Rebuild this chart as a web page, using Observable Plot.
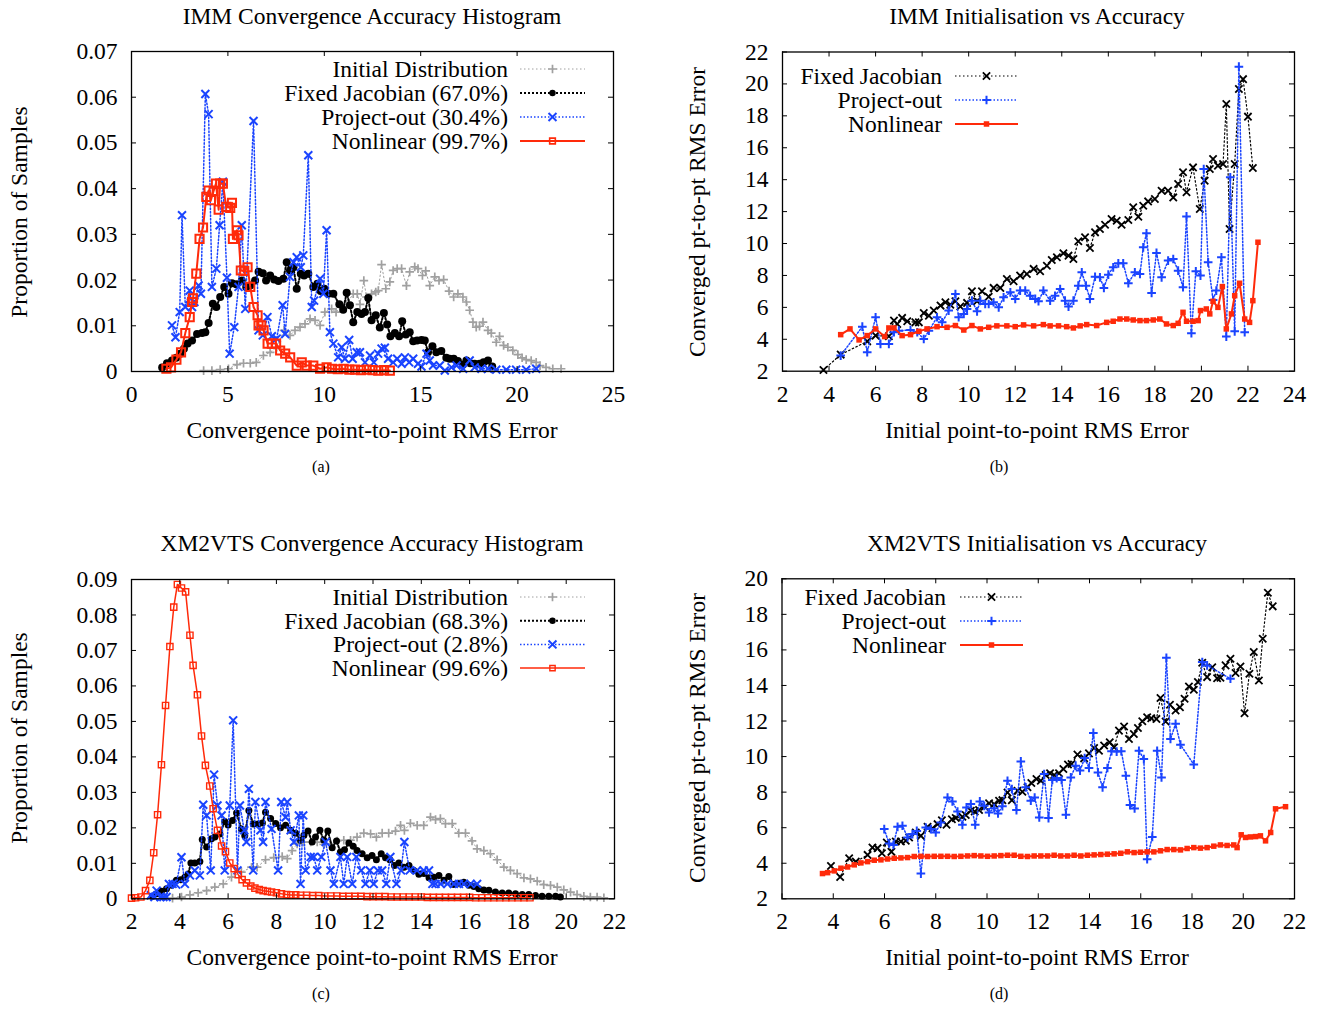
<!DOCTYPE html>
<html><head><meta charset="utf-8">
<script src="https://cdn.jsdelivr.net/npm/d3@7"></script>
<script src="https://cdn.jsdelivr.net/npm/@observablehq/plot@0.6"></script>
<style>
body{margin:0;background:#fff;font-family:"Liberation Serif","Times New Roman",serif;}
#root{position:relative;width:1322px;height:1009px;overflow:hidden;}
.t{position:absolute;white-space:nowrap;font-size:23.5px;line-height:1;color:#000;transform:translate(-50%,-50%);}
.cap{font-size:16px;}
.yl{transform:translate(-50%,-50%) rotate(-90deg);}
svg{overflow:visible;}
</style></head><body><div id="root"></div>
<script>
// ---------- DATA ----------
// (a) IMM histogram: [error, proportion]
const aInitial = [[3.74,.0002],[4.17,.0002],[4.60,.0004],[5.03,.0006],[5.47,.0015],[5.81,.0018],[6.16,.0018],[6.47,.0020],[6.84,.0035],[7.19,.0042],[7.53,.0053],[7.91,.0090],[8.22,.0079],[8.48,.0090],[8.74,.0097],[9.00,.0104],[9.26,.0115],[9.52,.0112],[9.78,.0101],[10.03,.0130],[10.38,.0137],[10.61,.0130],[10.90,.0142],[11.16,.0148],[11.50,.0170],[11.71,.0170],[11.85,.0147],[12.05,.0199],[12.19,.0163],[12.45,.0170],[12.67,.0174],[12.80,.0177],[12.97,.0234],[13.19,.0181],[13.40,.0196],[13.57,.0221],[13.78,.0225],[14.01,.0225],[14.26,.0188],[14.43,.0218],[14.69,.0229],[14.86,.0225],[15.09,.0210],[15.26,.0220],[15.47,.0188],[15.73,.0207],[15.95,.0199],[16.19,.0201],[16.47,.0176],[16.71,.0163],[16.93,.0170],[17.19,.0163],[17.37,.0152],[17.54,.0134],[17.71,.0108],[17.88,.0097],[18.05,.0099],[18.23,.0108],[18.49,.0090],[18.66,.0084],[18.92,.0064],[19.09,.0077],[19.30,.0057],[19.52,.0053],[19.78,.0046],[20.04,.0037],[20.26,.0030],[20.47,.0026],[20.73,.0024],[20.99,.0020],[21.19,.0013],[21.50,.0009],[21.85,.0006],[22.28,.0006]];
const aFixed = [[1.59,.0009],[1.84,.0018],[2.10,.0024],[2.32,.0030],[2.53,.0039],[2.72,.0050],[2.91,.0061],[3.14,.0068],[3.40,.0082],[3.66,.0084],[3.83,.0086],[4.00,.0106],[4.22,.0148],[4.40,.0141],[4.60,.0163],[4.81,.0185],[5.03,.0170],[5.21,.0193],[5.43,.0191],[5.72,.0199],[5.95,.0185],[6.16,.0188],[6.41,.0199],[6.59,.0218],[6.81,.0215],[6.98,.0199],[7.19,.0210],[7.40,.0201],[7.62,.0198],[7.88,.0203],[8.05,.0239],[8.22,.0221],[8.40,.0228],[8.57,.0181],[8.78,.0214],[8.95,.0210],[9.17,.0214],[9.43,.0185],[9.64,.0192],[9.81,.0176],[10.00,.0181],[10.21,.0170],[10.47,.0170],[10.78,.0147],[10.98,.0135],[11.16,.0172],[11.33,.0145],[11.50,.0108],[11.71,.0130],[11.93,.0126],[12.11,.0130],[12.28,.0161],[12.45,.0112],[12.67,.0123],[12.88,.0096],[13.09,.0128],[13.26,.0103],[13.43,.0077],[13.66,.0084],[13.88,.0077],[14.04,.0110],[14.23,.0081],[14.43,.0086],[14.61,.0066],[14.81,.0068],[15.04,.0069],[15.21,.0068],[15.38,.0042],[15.61,.0055],[15.81,.0042],[16.07,.0045],[16.33,.0030],[16.50,.0028],[16.71,.0028],[16.93,.0023],[17.19,.0015],[17.37,.0024],[17.57,.0018],[17.80,.0017],[18.05,.0017],[18.26,.0020],[18.49,.0024],[18.71,.0011]];
const aProject = [[2.10,.0101],[2.28,.0075],[2.50,.0130],[2.62,.0342],[2.79,.0141],[3.02,.0177],[3.14,.0141],[3.26,.0152],[3.48,.0188],[3.60,.0170],[3.83,.0607],[4.00,.0563],[4.17,.0185],[4.40,.0225],[4.57,.0320],[4.74,.0415],[4.95,.0205],[5.09,.0039],[5.33,.0097],[5.55,.0185],[5.72,.0320],[5.90,.0137],[6.33,.0548],[6.59,.0090],[6.81,.0079],[7.05,.0119],[7.28,.0077],[7.53,.0072],[7.84,.0145],[7.97,.0082],[8.22,.0207],[8.40,.0239],[8.57,.0250],[8.78,.0228],[8.91,.0254],[9.17,.0473],[9.35,.0141],[9.47,.0155],[9.78,.0203],[9.95,.0170],[10.12,.0309],[10.29,.0086],[10.47,.0061],[10.72,.0031],[10.90,.0053],[11.07,.0028],[11.29,.0069],[11.47,.0028],[11.68,.0042],[11.85,.0042],[12.11,.0020],[12.37,.0035],[12.57,.0020],[12.79,.0039],[12.97,.0050],[13.14,.0052],[13.31,.0028],[13.57,.0020],[13.78,.0028],[14.01,.0017],[14.18,.0031],[14.40,.0020],[14.61,.0028],[14.86,.0017],[15.04,.0011],[15.30,.0039],[15.47,.0024],[15.64,.0013],[15.99,.0013],[16.25,.0002],[16.60,.0009],[16.86,.0013],[17.20,.0006],[17.54,.0024],[17.80,.0009],[18.15,.0006],[18.49,.0006],[18.92,.0004],[19.44,.0004],[19.95,.0004],[20.47,.0004],[20.99,.0006]];
const aNonlinear = [[1.81,.0006],[2.05,.0009],[2.33,.0026],[2.57,.0042],[2.79,.0084],[3.02,.0119],[3.14,.0152],[3.19,.0160],[3.36,.0214],[3.53,.0290],[3.71,.0315],[3.88,.0382],[4.00,.0396],[4.12,.0375],[4.26,.0395],[4.38,.0411],[4.52,.0354],[4.60,.0411],[4.74,.0411],[4.91,.0360],[5.12,.0358],[5.21,.0369],[5.26,.0290],[5.47,.0309],[5.55,.0298],[5.67,.0221],[5.85,.0220],[6.02,.0228],[6.16,.0185],[6.33,.0141],[6.54,.0123],[6.59,.0101],[6.73,.0101],[6.85,.0090],[7.06,.0061],[7.28,.0061],[7.50,.0061],[7.71,.0046],[7.97,.0039],[8.23,.0031],[8.57,.0013],[8.83,.0020],[9.09,.0013],[9.43,.0013],[9.78,.0006],[10.12,.0009],[10.40,.0006],[10.70,.0005],[11.00,.0006],[11.30,.0004],[11.60,.0004],[11.90,.0003],[12.20,.0004],[12.50,.0003],[12.80,.0002],[13.10,.0003],[13.40,.0002]];

// (b) IMM initialisation vs accuracy: [initial error, converged error]
const bFixed = [[3.76,2.08],[4.50,3.04],[5.64,3.87],[6.00,4.23],[6.57,4.19],[6.79,5.17],[6.93,4.96],[7.14,5.34],[7.36,5.13],[7.71,5.06],[7.86,5.06],[8.07,5.65],[8.29,5.48],[8.50,5.80],[8.79,6.11],[9.00,6.32],[9.21,6.17],[9.43,6.38],[9.64,6.05],[9.93,6.28],[10.14,7.01],[10.36,6.38],[10.57,7.01],[10.86,6.67],[11.07,7.22],[11.36,7.22],[11.64,7.78],[11.93,7.63],[12.21,7.99],[12.50,8.09],[12.79,8.41],[13.07,8.26],[13.36,8.61],[13.57,8.97],[13.79,9.14],[14.07,9.39],[14.29,9.24],[14.50,9.03],[14.71,10.14],[15.00,10.39],[15.21,9.72],[15.43,10.70],[15.64,10.91],[15.86,11.18],[16.14,11.54],[16.36,11.43],[16.57,11.18],[16.86,11.47],[17.07,12.27],[17.29,11.68],[17.50,12.37],[17.71,12.64],[18.00,12.79],[18.29,13.31],[18.57,13.31],[18.79,12.89],[19.00,13.73],[19.21,14.46],[19.36,13.21],[19.64,14.77],[19.93,12.16],[20.14,13.94],[20.36,14.67],[20.50,15.29],[20.71,14.88],[20.93,14.98],[21.07,18.74],[21.21,10.91],[21.43,14.98],[21.61,19.68],[21.79,20.30],[22.00,17.95],[22.21,14.73]];
const bProject = [[4.50,2.98],[5.43,4.79],[5.64,3.19],[6.00,5.38],[6.21,3.71],[6.57,3.71],[6.79,4.44],[7.00,4.54],[7.50,4.58],[7.79,4.44],[8.07,4.02],[8.29,4.54],[8.64,5.38],[8.86,5.06],[9.14,5.80],[9.43,6.84],[9.57,5.38],[9.79,5.59],[9.93,5.90],[10.14,6.42],[10.36,5.75],[10.50,6.42],[10.71,6.21],[10.86,6.21],[11.07,6.32],[11.29,6.00],[11.50,6.63],[11.79,6.94],[12.00,6.53],[12.21,7.05],[12.43,7.05],[12.64,6.73],[12.86,6.53],[13.00,6.38],[13.21,7.05],[13.50,6.42],[13.71,6.73],[13.93,7.15],[14.14,6.42],[14.29,6.05],[14.50,6.42],[14.71,7.36],[14.86,8.20],[15.04,7.36],[15.21,6.53],[15.43,7.92],[15.64,7.88],[15.81,7.22],[16.00,8.05],[16.21,8.51],[16.43,8.76],[16.64,8.76],[16.86,7.51],[17.14,8.20],[17.36,8.09],[17.50,9.76],[17.64,10.64],[17.86,6.90],[18.07,9.41],[18.29,7.88],[18.57,8.93],[18.79,9.03],[19.00,8.30],[19.21,7.26],[19.36,11.70],[19.57,4.38],[19.76,8.26],[19.96,7.99],[20.10,14.67],[20.29,8.82],[20.50,6.46],[20.64,7.05],[20.86,9.14],[21.07,4.17],[21.24,14.15],[21.43,4.50],[21.61,21.08],[21.86,4.44]];
const bNonlinear = [[4.50,4.29],[4.90,4.65],[5.29,3.96],[5.64,4.23],[6.00,4.65],[6.39,4.17],[6.57,4.71],[6.79,4.71],[7.14,4.23],[7.50,4.29],[7.86,4.50],[8.21,4.65],[8.64,4.79],[9.07,4.75],[9.43,4.86],[9.79,4.58],[10.14,4.86],[10.50,4.65],[10.86,4.75],[11.21,4.84],[11.64,4.84],[12.00,4.79],[12.36,4.90],[12.79,4.84],[13.21,4.92],[13.50,4.84],[13.86,4.84],[14.21,4.79],[14.50,4.71],[14.79,4.84],[15.07,4.92],[15.50,4.86],[15.93,5.06],[16.21,5.13],[16.50,5.27],[16.79,5.27],[17.07,5.21],[17.36,5.17],[17.64,5.17],[17.93,5.21],[18.21,5.27],[18.50,4.96],[18.79,4.86],[19.00,5.00],[19.21,5.69],[19.36,5.13],[19.64,5.13],[19.86,5.17],[19.96,5.80],[20.21,5.90],[20.36,5.59],[20.50,6.38],[20.71,6.00],[20.90,7.30],[21.07,4.65],[21.29,5.59],[21.43,6.73],[21.64,7.51],[21.86,5.27],[22.07,5.06],[22.21,6.42],[22.43,10.08]];

// (c) XM2VTS histogram
const cInitial = [[3.70,.0002],[4.07,.0005],[4.42,.0011],[4.76,.0017],[5.11,.0023],[5.45,.0033],[5.80,.0042],[6.14,.0061],[6.55,.0075],[6.97,.0089],[7.20,.0089],[7.55,.0110],[7.89,.0116],[8.24,.0119],[8.45,.0113],[8.65,.0136],[8.86,.0155],[9.14,.0160],[9.42,.0160],[9.69,.0160],[9.96,.0153],[10.24,.0155],[10.52,.0163],[10.79,.0165],[11.07,.0165],[11.34,.0174],[11.62,.0185],[11.90,.0183],[12.14,.0174],[12.38,.0185],[12.65,.0185],[12.93,.0191],[13.14,.0207],[13.30,.0193],[13.55,.0213],[13.83,.0207],[14.10,.0207],[14.38,.0230],[14.59,.0223],[14.79,.0226],[15.00,.0212],[15.28,.0212],[15.55,.0185],[15.83,.0185],[16.10,.0163],[16.31,.0141],[16.59,.0136],[16.86,.0127],[17.14,.0110],[17.42,.0089],[17.69,.0080],[17.97,.0071],[18.25,.0059],[18.52,.0056],[18.80,.0050],[19.07,.0040],[19.35,.0038],[19.63,.0033],[19.90,.0025],[20.18,.0019],[20.45,.0012],[20.73,.0007],[21.00,.0005],[21.28,.0005],[21.56,.0003]];
const cFixed = [[2.86,.0007],[3.04,.0014],[3.24,.0021],[3.45,.0028],[3.66,.0038],[3.86,.0052],[4.04,.0054],[4.21,.0061],[4.35,.0070],[4.46,.0101],[4.62,.0101],[4.83,.0105],[4.93,.0167],[5.11,.0146],[5.31,.0169],[5.45,.0174],[5.66,.0183],[5.86,.0218],[6.00,.0208],[6.18,.0221],[6.35,.0242],[6.55,.0197],[6.69,.0178],[6.86,.0249],[7.04,.0211],[7.24,.0211],[7.42,.0214],[7.55,.0244],[7.76,.0226],[7.97,.0212],[8.17,.0200],[8.38,.0207],[8.59,.0193],[8.80,.0185],[9.00,.0165],[9.14,.0179],[9.31,.0191],[9.48,.0160],[9.62,.0174],[9.80,.0193],[9.96,.0166],[10.13,.0191],[10.31,.0144],[10.49,.0163],[10.65,.0132],[10.82,.0138],[11.00,.0157],[11.18,.0148],[11.34,.0136],[11.55,.0127],[11.76,.0116],[11.96,.0122],[12.14,.0110],[12.34,.0127],[12.52,.0116],[12.70,.0110],[12.89,.0094],[13.07,.0101],[13.28,.0089],[13.49,.0094],[13.69,.0080],[13.90,.0069],[14.11,.0071],[14.32,.0059],[14.52,.0061],[14.73,.0066],[14.94,.0052],[15.14,.0063],[15.35,.0040],[15.56,.0044],[15.76,.0047],[15.97,.0038],[16.18,.0035],[16.38,.0028],[16.59,.0025],[16.80,.0024],[17.07,.0019],[17.35,.0016],[17.62,.0016],[17.90,.0014],[18.18,.0012],[18.45,.0012],[18.73,.0009],[19.00,.0007],[19.28,.0007],[19.56,.0007],[19.76,.0005]];
const cProject = [[2.80,.0010],[2.95,.0005],[3.04,.0023],[3.20,.0005],[3.32,.0005],[3.45,.0005],[3.55,.0042],[3.70,.0042],[3.85,.0040],[4.07,.0117],[4.21,.0042],[4.42,.0066],[4.62,.0080],[4.83,.0066],[4.97,.0265],[5.11,.0235],[5.28,.0080],[5.42,.0350],[5.56,.0263],[5.73,.0235],[5.86,.0080],[6.07,.0263],[6.21,.0503],[6.39,.0080],[6.49,.0263],[6.67,.0193],[6.76,.0160],[6.86,.0310],[7.04,.0080],[7.13,.0273],[7.34,.0193],[7.45,.0160],[7.55,.0273],[7.80,.0197],[8.07,.0080],[8.20,.0273],[8.38,.0230],[8.45,.0273],[8.59,.0193],[8.73,.0160],[8.93,.0235],[9.00,.0042],[9.11,.0235],[9.21,.0080],[9.42,.0118],[9.55,.0118],[9.69,.0080],[9.86,.0118],[10.04,.0160],[10.24,.0080],[10.38,.0042],[10.65,.0118],[10.79,.0042],[10.93,.0118],[11.14,.0042],[11.31,.0118],[11.51,.0080],[11.69,.0042],[11.87,.0080],[12.03,.0042],[12.20,.0080],[12.38,.0080],[12.55,.0042],[12.72,.0118],[12.97,.0042],[13.16,.0080],[13.30,.0160],[13.52,.0080],[13.82,.0080],[14.10,.0080],[14.32,.0080],[14.46,.0042],[14.59,.0042],[14.80,.0042],[15.08,.0042],[15.35,.0042],[15.56,.0042],[15.76,.0042],[16.04,.0042],[16.31,.0042]];
const cNonlinear = [[2.00,.0002],[2.17,.0003],[2.39,.0005],[2.58,.0023],[2.76,.0052],[2.92,.0130],[3.08,.0237],[3.24,.0378],[3.41,.0545],[3.59,.0711],[3.75,.0822],[3.90,.0886],[4.07,.0876],[4.24,.0865],[4.42,.0743],[4.55,.0658],[4.73,.0575],[4.90,.0459],[5.06,.0376],[5.24,.0318],[5.38,.0254],[5.56,.0193],[5.73,.0149],[5.89,.0133],[6.07,.0101],[6.25,.0085],[6.42,.0068],[6.58,.0054],[6.76,.0045],[6.94,.0036],[7.11,.0030],[7.29,.0026],[7.45,.0023],[7.63,.0021],[7.80,.0019],[8.00,.0017],[8.21,.0014],[8.42,.0012],[8.60,.0011],[8.80,.0011],[9.00,.0010],[9.25,.0010],[9.50,.0009],[9.75,.0009],[10.00,.0008],[10.25,.0008],[10.50,.0008],[10.75,.0007],[11.00,.0007],[11.25,.0007],[11.50,.0007],[11.75,.0006],[12.00,.0006],[12.25,.0006],[12.50,.0006],[12.75,.0005],[13.00,.0005],[13.25,.0005],[13.50,.0005],[13.75,.0005],[14.00,.0005],[14.25,.0004],[14.50,.0004],[14.75,.0004],[15.00,.0004],[15.25,.0004],[15.50,.0004],[15.75,.0004],[16.00,.0004],[16.25,.0003],[16.50,.0003],[16.75,.0003],[17.00,.0003],[17.25,.0003],[17.50,.0003],[17.75,.0003],[18.00,.0003],[18.25,.0003],[18.50,.0003]];

// (d) XM2VTS initialisation vs accuracy
const dFixed = [[3.91,3.85],[4.27,3.23],[4.62,4.28],[4.88,4.09],[5.34,4.47],[5.53,4.88],[5.73,4.85],[5.90,4.56],[6.09,5.17],[6.27,4.64],[6.44,5.22],[6.64,5.22],[6.83,5.26],[6.96,5.45],[7.22,5.73],[7.42,5.54],[7.68,6.05],[7.87,5.97],[8.07,6.20],[8.24,6.42],[8.42,6.16],[8.63,6.48],[8.78,6.54],[9.04,6.61],[9.17,6.71],[9.37,6.95],[9.52,6.91],[9.69,6.99],[9.91,7.18],[10.08,7.38],[10.28,7.33],[10.47,7.52],[10.60,7.55],[10.80,7.98],[10.97,7.55],[11.19,8.08],[11.38,8.02],[11.58,8.27],[11.73,8.51],[11.93,8.74],[12.10,8.64],[12.29,8.96],[12.46,9.06],[12.62,8.96],[12.81,9.06],[12.98,9.30],[13.16,9.55],[13.30,9.58],[13.53,10.11],[13.79,9.90],[13.98,10.18],[14.18,10.48],[14.37,10.33],[14.57,10.62],[14.79,10.80],[14.96,10.52],[15.15,11.46],[15.35,11.69],[15.54,10.99],[15.73,11.27],[15.89,11.61],[16.06,11.99],[16.25,12.21],[16.41,12.16],[16.61,12.12],[16.77,13.29],[16.97,11.97],[17.14,12.91],[17.36,12.59],[17.53,12.78],[17.71,13.25],[17.88,13.94],[18.07,13.76],[18.23,14.19],[18.40,15.28],[18.59,14.47],[18.79,15.03],[18.98,14.41],[19.11,14.43],[19.31,15.13],[19.50,15.50],[19.70,14.70],[19.89,15.07],[20.05,12.44],[20.24,14.66],[20.41,15.88],[20.61,14.28],[20.76,16.63],[20.96,19.21],[21.15,18.45]];
const dProject = [[5.99,5.92],[6.18,5.11],[6.35,5.03],[6.51,6.05],[6.70,6.11],[6.90,5.45],[7.09,5.64],[7.26,5.82],[7.42,3.42],[7.61,6.01],[7.81,5.92],[8.00,5.73],[8.20,6.29],[8.46,7.70],[8.65,7.48],[8.85,6.91],[9.04,6.16],[9.20,7.14],[9.37,7.33],[9.54,6.16],[9.72,7.48],[9.89,7.23],[10.08,6.86],[10.28,7.10],[10.43,6.80],[10.60,7.21],[10.80,8.64],[10.97,8.17],[11.15,6.99],[11.32,9.73],[11.51,8.27],[11.71,7.52],[11.86,7.70],[12.04,6.58],[12.23,9.02],[12.40,6.54],[12.55,8.68],[12.72,8.79],[12.91,8.68],[13.08,6.73],[13.27,8.83],[13.46,9.49],[13.63,9.21],[13.81,9.92],[13.98,9.36],[14.15,11.33],[14.33,9.11],[14.51,8.27],[14.70,9.36],[14.86,10.30],[15.06,10.28],[15.24,10.30],[15.42,8.92],[15.58,7.27],[15.76,7.08],[15.93,10.33],[16.12,9.86],[16.25,4.23],[16.45,5.48],[16.64,10.33],[16.81,8.83],[17.00,15.56],[17.16,10.99],[17.36,11.84],[17.55,10.67],[18.07,9.55],[18.40,15.32],[18.59,15.13],[19.50,14.38]];
const dNonlinear = [[3.58,3.42],[3.78,3.47],[4.04,3.57],[4.30,3.72],[4.56,3.79],[4.82,3.91],[5.08,4.02],[5.34,4.09],[5.60,4.17],[5.86,4.19],[6.12,4.24],[6.38,4.28],[6.64,4.30],[6.90,4.32],[7.16,4.38],[7.42,4.39],[7.68,4.38],[7.94,4.39],[8.20,4.39],[8.46,4.39],[8.72,4.38],[8.98,4.39],[9.24,4.41],[9.50,4.43],[9.76,4.41],[10.02,4.39],[10.28,4.41],[10.54,4.43],[10.80,4.45],[11.06,4.45],[11.32,4.39],[11.58,4.38],[11.84,4.41],[12.10,4.41],[12.36,4.41],[12.62,4.45],[12.88,4.41],[13.14,4.41],[13.40,4.45],[13.66,4.41],[13.92,4.45],[14.18,4.47],[14.44,4.49],[14.70,4.51],[14.96,4.53],[15.22,4.56],[15.48,4.64],[15.74,4.60],[15.99,4.62],[16.25,4.64],[16.51,4.64],[16.77,4.70],[17.03,4.77],[17.29,4.77],[17.55,4.75],[17.81,4.83],[18.07,4.88],[18.33,4.85],[18.59,4.88],[18.85,4.96],[19.11,5.03],[19.37,5.00],[19.63,5.03],[19.76,4.88],[19.92,5.60],[20.09,5.45],[20.28,5.48],[20.48,5.50],[20.67,5.54],[20.87,5.26],[21.07,5.73],[21.26,7.06],[21.65,7.18]];

// tick values
const aXTicks = [0,5,10,15,20,25];
const aYTicks = [0,0.01,0.02,0.03,0.04,0.05,0.06,0.07];
const bXTicks = [2,4,6,8,10,12,14,16,18,20,22,24];
const bYTicks = [2,4,6,8,10,12,14,16,18,20,22];
const cXTicks = [2,4,6,8,10,12,14,16,18,20,22];
const cYTicks = [0,0.01,0.02,0.03,0.04,0.05,0.06,0.07,0.08,0.09];
const dXTicks = [2,4,6,8,10,12,14,16,18,20,22];
const dYTicks = [2,4,6,8,10,12,14,16,18,20];

// labels
const aLabels = ["Initial Distribution","Fixed Jacobian (67.0%)","Project-out (30.4%)","Nonlinear (99.7%)"];
const bLabels = ["Fixed Jacobian","Project-out","Nonlinear"];
const cLabels = ["Initial Distribution","Fixed Jacobian (68.3%)","Project-out (2.8%)","Nonlinear (99.6%)"];
const dLabels = ["Fixed Jacobian","Project-out","Nonlinear"];

// ---------- STYLES ----------
const GRAY = "#a0a0a0", BLACK = "#000", BLUE = "#1a44ff", RED = "#ff2a0a";
const hInit  = {color:GRAY, lw:1, dash:"1.5,2.5", symbol:"plus", r:2.9, fill:"none", mw:1.7};
const aFixedSt = {color:BLACK, lw:2, dash:"2,2", symbol:"circle", r:4, fill:BLACK, mw:0};
const cFixedSt = {color:BLACK, lw:2, dash:"2,2", symbol:"circle", r:3.5, fill:BLACK, mw:0};
const hProj  = {color:BLUE, lw:1.5, dash:"1.5,2", symbol:"times", r:3.7, fill:"none", mw:2};
const aNonSt = {color:RED, lw:2, dash:null, symbol:"square", r:4.6, fill:"none", mw:2};
const cNonSt = {color:RED, lw:1.5, dash:null, symbol:"square", r:3.5, fill:"none", mw:1.4};
const sFixed = {color:BLACK, lw:1.2, dash:"1.5,2.5", symbol:"times", r:3.4, fill:"none", mw:1.8};
const sProj  = {color:BLUE, lw:1.5, dash:"1.5,2", symbol:"plus", r:2.9, fill:"none", mw:2};
const sNon   = {color:RED, lw:2, dash:null, symbol:"square", r:3.1, fill:RED, mw:0};

const root = document.getElementById("root");
const FONT = '"Liberation Serif","Times New Roman",serif';

function panel(o) {
  const fw = o.width - o.mL - o.mR, fh = o.height - o.mT - o.mB;
  const TK = 5;
  const marks = [];
  for (const s of o.series) {
    const st = s.style;
    marks.push(Plot.line(s.data, {x: d => d[0], y: d => d[1], stroke: st.color, strokeWidth: st.lw, strokeDasharray: st.dash || undefined}));
    marks.push(Plot.dot(s.data, {x: d => d[0], y: d => d[1], symbol: st.symbol, r: st.r, stroke: st.mw ? st.color : "none", fill: st.fill, strokeWidth: st.mw || undefined}));
  }
  marks.push(Plot.tickX(o.xTicks, {x: d => d, insetTop: fh - TK, stroke: "#000", strokeWidth: 1}));
  marks.push(Plot.tickX(o.xTicks, {x: d => d, insetBottom: fh - TK, stroke: "#000", strokeWidth: 1}));
  marks.push(Plot.tickY(o.yTicks, {y: d => d, insetRight: fw - TK, stroke: "#000", strokeWidth: 1}));
  marks.push(Plot.tickY(o.yTicks, {y: d => d, insetLeft: fw - TK, stroke: "#000", strokeWidth: 1}));
  marks.push(Plot.axisX(o.xTicks, {tickSize: 0, tickPadding: 14, label: null, tickFormat: d => String(d)}));
  marks.push(Plot.axisY(o.yTicks, {tickSize: 0, tickPadding: 14, label: null, tickFormat: o.yFmt}));
  marks.push(Plot.frame({stroke: "#000", strokeWidth: 1.3}));
  const chart = Plot.plot({
    width: o.width, height: o.height,
    marginLeft: o.mL, marginRight: o.mR, marginTop: o.mT, marginBottom: o.mB,
    x: {domain: o.xDom, label: null},
    y: {domain: o.yDom, label: null},
    style: {fontFamily: FONT, fontSize: "23.5px", color: "#000", background: "transparent", overflow: "visible"},
    marks
  });
  chart.style.position = "absolute";
  chart.style.left = o.left + "px";
  chart.style.top = o.top + "px";
  root.appendChild(chart);
}

function txt(s, x, y, cls) {
  const d = document.createElement("div");
  d.className = "t " + (cls || "");
  d.textContent = s;
  d.style.left = x + "px"; d.style.top = y + "px";
  root.appendChild(d);
}

function legend(textRight, lx1, lx2, y0, dy, labels, styles) {
  const svg = d3.select(root).append("svg")
    .attr("width", 1322).attr("height", 1009)
    .style("position", "absolute").style("left", "0px").style("top", "0px")
    .style("pointer-events", "none");
  const symMap = {plus: d3.symbolPlus, times: d3.symbolTimes, circle: d3.symbolCircle, square: d3.symbolSquare};
  labels.forEach((lab, i) => {
    const y = y0 + i * dy, st = styles[i];
    svg.append("text").attr("x", textRight).attr("y", y).attr("text-anchor", "end")
      .attr("dominant-baseline", "central").attr("font-family", FONT).attr("font-size", 23.5).text(lab);
    svg.append("line").attr("x1", lx1).attr("x2", lx2).attr("y1", y).attr("y2", y)
      .attr("stroke", st.color).attr("stroke-width", st.lw).attr("stroke-dasharray", st.dash);
    const r = st.legendR || st.r;
    svg.append("path").attr("d", d3.symbol(symMap[st.symbol], r * r * Math.PI)())
      .attr("transform", `translate(${(lx1 + lx2) / 2},${y})`)
      .attr("fill", st.fill).attr("stroke", st.mw ? st.color : "none").attr("stroke-width", st.mw || 0);
  });
}

const fmt2 = d => d === 0 ? "0" : d.toFixed(2);

panel({left: 0, top: 0, width: 661, height: 400, mL: 131, mR: 48, mT: 51, mB: 29,
  xDom: [0, 25], yDom: [0, 0.07], xTicks: aXTicks, yTicks: aYTicks, yFmt: fmt2,
  series: [{data: aInitial, style: hInit}, {data: aFixed, style: aFixedSt}, {data: aProject, style: hProj}, {data: aNonlinear, style: aNonSt}]});
panel({left: 661, top: 0, width: 661, height: 400, mL: 121, mR: 28, mT: 51.5, mB: 29.3,
  xDom: [2, 24], yDom: [2, 22], xTicks: bXTicks, yTicks: bYTicks, yFmt: d => String(d),
  series: [{data: bFixed, style: sFixed}, {data: bProject, style: sProj}, {data: bNonlinear, style: sNon}]});
panel({left: 0, top: 527, width: 661, height: 400, mL: 131, mR: 47, mT: 52, mB: 28.7,
  xDom: [2, 22], yDom: [0, 0.09], xTicks: cXTicks, yTicks: cYTicks, yFmt: fmt2,
  series: [{data: cInitial, style: hInit}, {data: cFixed, style: cFixedSt}, {data: cProject, style: hProj}, {data: cNonlinear, style: cNonSt}]});
panel({left: 661, top: 527, width: 661, height: 400, mL: 120.5, mR: 28, mT: 51.3, mB: 28.7,
  xDom: [2, 22], yDom: [2, 20], xTicks: dXTicks, yTicks: dYTicks, yFmt: d => String(d),
  series: [{data: dFixed, style: sFixed}, {data: dProject, style: sProj}, {data: dNonlinear, style: sNon}]});

const legA = [hInit, {...aFixedSt, legendR: 3.2}, hProj, {...aNonSt, legendR: 3.2, mw: 1.6}];
const legC = [hInit, {...cFixedSt, legendR: 3.2}, hProj, {...cNonSt, legendR: 3.0}];
legend(508, 520, 585, 69, 24, aLabels, legA);
legend(942, 955, 1018, 76, 24, bLabels, [sFixed, sProj, sNon]);
legend(508, 520, 585, 597, 23.7, cLabels, legC);
legend(946, 960, 1023, 597, 24, dLabels, [sFixed, sProj, sNon]);

txt("IMM Convergence Accuracy Histogram", 372, 17);
txt("IMM Initialisation vs Accuracy", 1037, 17);
txt("XM2VTS Convergence Accuracy Histogram", 372, 544);
txt("XM2VTS Initialisation vs Accuracy", 1037, 544);
txt("Convergence point-to-point RMS Error", 372, 431);
txt("Initial point-to-point RMS Error", 1037, 431);
txt("Convergence point-to-point RMS Error", 372, 958);
txt("Initial point-to-point RMS Error", 1037, 958);
txt("Proportion of Samples", 20, 212, "yl");
txt("Converged pt-to-pt RMS Error", 698, 212, "yl");
txt("Proportion of Samples", 20, 738, "yl");
txt("Converged pt-to-pt RMS Error", 698, 738, "yl");
txt("(a)", 321, 467, "cap");
txt("(b)", 999, 467, "cap");
txt("(c)", 321, 994, "cap");
txt("(d)", 999, 994, "cap");
</script></body></html>
